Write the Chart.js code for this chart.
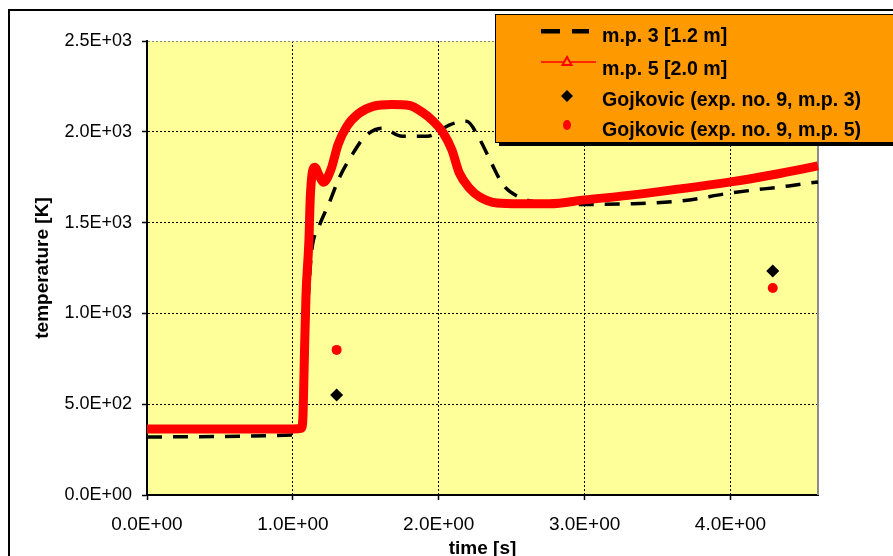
<!DOCTYPE html>
<html>
<head>
<meta charset="utf-8">
<script src="https://cdn.jsdelivr.net/npm/chart.js@4"></script>
<style>
  html, body { margin: 0; padding: 0; background: #fff; }
  #wrap { width: 893px; height: 556px; }
</style>
</head>
<body>
<div id="wrap"><canvas id="chart" width="893" height="556"></canvas></div>
<script>
  // m.p. 3 [1.2 m] (black dashed)
  const mp3Time = [0, 0.5, 1.0, 1.05, 1.07, 1.09, 1.11, 1.13, 1.18, 1.25, 1.32, 1.40, 1.49, 1.61, 1.75, 1.92, 2.08, 2.19, 2.28, 2.36, 2.44, 2.54, 2.7, 3.0, 3.29, 3.67, 4.0, 4.4, 4.6];
  const mp3Temp = [319, 322, 330, 340, 400, 850, 1150, 1350, 1480, 1610, 1750, 1865, 1970, 2020, 1975, 1975, 2040, 2058, 1960, 1830, 1710, 1645, 1610, 1600, 1603, 1620, 1663, 1702, 1724];

  // m.p. 5 [2.0 m] (red)
  const mp5Time = [0, 0.5, 1.0, 1.06, 1.07, 1.08, 1.09, 1.11, 1.12, 1.15, 1.18, 1.21, 1.26, 1.31, 1.37, 1.45, 1.55, 1.68, 1.80, 1.89, 1.96, 2.03, 2.09, 2.14, 2.21, 2.28, 2.40, 2.55, 2.76, 3.0, 3.3, 3.6, 4.0, 4.3, 4.6];
  const mp5Temp = [363, 363, 363, 368, 450, 800, 1100, 1400, 1650, 1805, 1760, 1722, 1790, 1930, 2030, 2100, 2140, 2150, 2145, 2106, 2060, 1995, 1900, 1775, 1690, 1642, 1608, 1604, 1604, 1625, 1650, 1680, 1724, 1765, 1812];

  // Gojkovic, exp. no. 9
  const expTime = [1.30, 4.29];
  const exp3Temp = [551, 1234];
  const exp5Temp = [799, 1140];

  const xTicks = [0, 1, 2, 3, 4];
  const yTicks = [0, 500, 1000, 1500, 2000, 2500];

  const FONT = '"Liberation Sans", Arial, Helvetica, sans-serif';

  function pts(xs, ys) {
    return xs.map((x, i) => ({ x: x, y: ys[i] }));
  }

  function fmtE(v) {
    const parts = v.toExponential(1).split('e');
    const n = parseInt(parts[1], 10);
    return parts[0] + 'E' + (n < 0 ? '-' : '+') + String(Math.abs(n)).padStart(2, '0');
  }

  // plot background, outer frame and the orange legend box
  const framePlugin = {
    id: 'frame',
    beforeDraw(chart) {
      const ctx = chart.ctx;
      const a = chart.chartArea;
      ctx.save();
      ctx.fillStyle = '#ffffff';
      ctx.fillRect(0, 0, chart.width, chart.height);
      ctx.strokeStyle = '#000';
      ctx.lineWidth = 2;
      ctx.beginPath();
      ctx.moveTo(9, chart.height);
      ctx.lineTo(9, 10);
      ctx.lineTo(chart.width, 10);
      ctx.stroke();
      ctx.fillStyle = '#ffff99';
      ctx.fillRect(a.left, a.top, a.right - a.left, a.bottom - a.top);
      ctx.restore();
    },
    beforeDatasetsDraw(chart) {
      const ctx = chart.ctx;
      const a = chart.chartArea;
      ctx.save();
      ctx.strokeStyle = '#8c8c8c';
      ctx.lineWidth = 2;
      ctx.beginPath();
      ctx.moveTo(a.right, a.top);
      ctx.lineTo(a.right, a.bottom);
      ctx.stroke();
      ctx.restore();
    },
    afterDraw(chart) {
      const ctx = chart.ctx;
      const lx = 495, ly = 14, lw = 420, lh = 128;
      ctx.save();
      ctx.fillStyle = '#000';
      ctx.fillRect(lx + 4, ly + 4, lw, lh);
      ctx.fillStyle = '#ff9900';
      ctx.fillRect(lx, ly, lw, lh);
      ctx.strokeStyle = '#000';
      ctx.lineWidth = 1;
      ctx.strokeRect(lx + 0.5, ly + 0.5, lw, lh);

      const ix = 567;
      // dashed black
      ctx.fillStyle = '#000';
      ctx.fillRect(541, 29, 19, 4.5);
      ctx.fillRect(572, 29, 17, 4.5);
      // red line with hollow triangle
      ctx.strokeStyle = '#ff0000';
      ctx.lineWidth = 1.5;
      ctx.beginPath();
      ctx.moveTo(541, 62);
      ctx.lineTo(596, 62);
      ctx.stroke();
      ctx.fillStyle = '#ff9900';
      ctx.lineWidth = 2;
      ctx.beginPath();
      ctx.moveTo(ix, 57);
      ctx.lineTo(ix + 4.5, 65);
      ctx.lineTo(ix - 4.5, 65);
      ctx.closePath();
      ctx.fill();
      ctx.stroke();
      // black diamond
      ctx.fillStyle = '#000';
      ctx.beginPath();
      ctx.moveTo(ix, 90);
      ctx.lineTo(ix + 6, 96);
      ctx.lineTo(ix, 102);
      ctx.lineTo(ix - 6, 96);
      ctx.closePath();
      ctx.fill();
      // red dot
      ctx.fillStyle = '#ff0000';
      ctx.beginPath();
      ctx.ellipse(ix, 125, 4, 5, 0, 0, Math.PI * 2);
      ctx.fill();

      ctx.fillStyle = '#000';
      ctx.font = 'bold 19.6px ' + FONT;
      ctx.textAlign = 'left';
      ctx.textBaseline = 'alphabetic';
      const labels = ['m.p. 3 [1.2 m]', 'm.p. 5 [2.0 m]', 'Gojkovic (exp. no. 9, m.p. 3)', 'Gojkovic (exp. no. 9, m.p. 5)'];
      const baselines = [42, 75, 106, 136];
      labels.forEach((t, i) => ctx.fillText(t, 602, baselines[i]));
      ctx.restore();
    }
  };

  const ctx = document.getElementById('chart').getContext('2d');
  const chart = new Chart(ctx, {
    type: 'line',
    data: {
      datasets: [{
        label: 'm.p. 3 [1.2 m]',
        data: pts(mp3Time, mp3Temp),
        borderColor: '#000',
        borderWidth: 3.5,
        borderDash: [15, 11],
        pointRadius: 0,
        cubicInterpolationMode: 'monotone',
        clip: false,
        order: 2
      }, {
        label: 'm.p. 5 [2.0 m]',
        data: pts(mp5Time, mp5Temp),
        borderColor: '#ff0000',
        borderWidth: 9,
        pointRadius: 0,
        cubicInterpolationMode: 'monotone',
        clip: false,
        order: 1
      }, {
        label: 'Gojkovic (exp. no. 9, m.p. 3)',
        data: pts(expTime, exp3Temp),
        showLine: false,
        pointStyle: 'rectRot',
        pointRadius: 6.5,
        backgroundColor: '#000',
        borderColor: '#000',
        borderWidth: 0,
        order: 0
      }, {
        label: 'Gojkovic (exp. no. 9, m.p. 5)',
        data: pts(expTime, exp5Temp),
        showLine: false,
        pointStyle: 'circle',
        pointRadius: 5,
        backgroundColor: '#ff0000',
        borderColor: '#ff0000',
        borderWidth: 0,
        order: 0
      }]
    },
    options: {
      responsive: false,
      animation: false,
      events: [],
      layout: { padding: { top: 41, right: 75, left: 0, bottom: 0 } },
      plugins: {
        legend: { display: false },
        tooltip: { enabled: false }
      },
      scales: {
        x: {
          type: 'linear',
          min: 0,
          max: 4.6,
          afterBuildTicks: function(scale) {
            scale.ticks = xTicks.map(v => ({ value: v }));
          },
          afterFit: function(scale) { scale.height = 61; },
          ticks: {
            color: '#000',
            padding: 13,
            maxRotation: 0,
            font: { family: FONT, size: 19 },
            callback: v => fmtE(v)
          },
          grid: { color: '#000', lineWidth: 1, tickLength: 5, tickColor: '#000', tickWidth: 1.5 },
          border: { display: true, color: '#000', width: 2, dash: [2, 2] },
          title: {
            display: true,
            text: 'time [s]',
            color: '#000',
            padding: 0,
            font: { family: FONT, size: 19, weight: 'bold', lineHeight: 0.8 }
          }
        },
        y: {
          type: 'linear',
          min: 0,
          max: 2500,
          afterBuildTicks: function(scale) {
            scale.ticks = yTicks.map(v => ({ value: v }));
          },
          afterFit: function(scale) { scale.width = 147; },
          ticks: {
            color: '#000',
            padding: 10,
            font: { family: FONT, size: 18 },
            callback: v => fmtE(v)
          },
          grid: {
            color: c => (c.tick && c.tick.value === 2500) ? '#8c8c8c' : '#000',
            lineWidth: 1,
            tickLength: 5,
            tickColor: '#000',
            tickWidth: 1.5
          },
          border: { display: true, color: '#000', width: 2, dash: [2, 2] },
          title: {
            display: true,
            text: 'temperature [K]',
            color: '#000',
            padding: { top: 33.5, bottom: 0 },
            font: { family: FONT, size: 19, weight: 'bold', lineHeight: 1 }
          }
        }
      }
    },
    plugins: [framePlugin]
  });
</script>
</body>
</html>
